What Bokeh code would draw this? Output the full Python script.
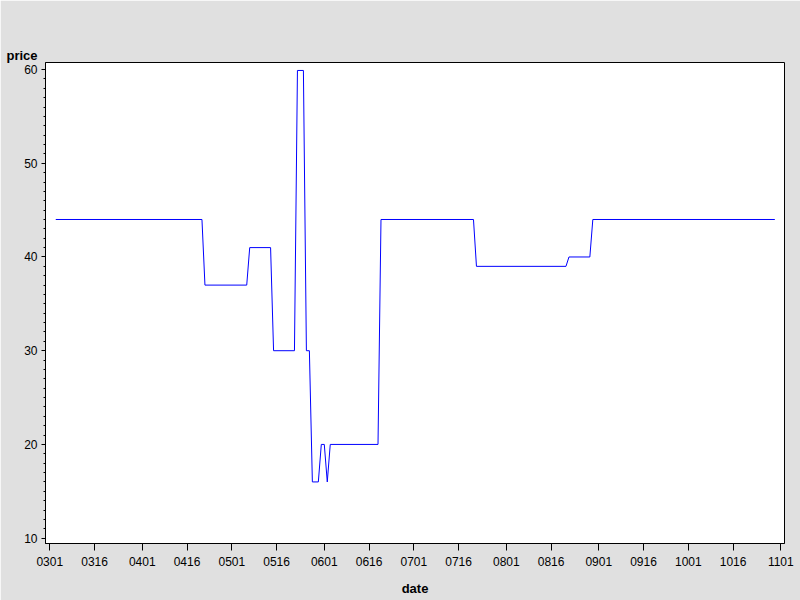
import pandas as pd
from bokeh.plotting import figure
from bokeh.models import (FixedTicker, SingleIntervalTicker, DatetimeTickFormatter,
                          Range1d, Title)
from bokeh.embed import file_html
from bokeh.resources import INLINE

YEAR = 2010
# observation dates (MMDD) where the price changes, and the prices
dates = ["0303", "0421", "0422", "0506", "0507", "0514", "0515", "0522", "0523",
         "0525", "0526", "0527", "0528", "0530", "0531", "0601", "0602", "0603",
         "0619", "0620", "0721", "0722", "0821", "0822", "0829", "0830", "1030"]
prices = [44, 44, 37, 37, 41, 41, 30, 30, 59.9,
          59.9, 30, 30, 16, 16, 20, 20, 16, 20,
          20, 44, 44, 39, 39, 40, 40, 44, 44]
tick_labels = ["0301", "0316", "0401", "0416", "0501", "0516", "0601", "0616",
               "0701", "0716", "0801", "0816", "0901", "0916", "1001", "1016", "1101"]

EPOCH = pd.Timestamp("1970-01-01")
def to_ms(ts):
    return (ts - EPOCH) / pd.Timedelta(milliseconds=1)

x = pd.to_datetime([f"{YEAR}{d}" for d in dates], format="%Y%m%d")
tick_ms = [to_ms(pd.Timestamp(f"{YEAR}-{t[:2]}-{t[2:]}")) for t in tick_labels]
start = to_ms(pd.Timestamp(f"{YEAR}-03-01") - pd.Timedelta(days=1.44))
end = to_ms(pd.Timestamp(f"{YEAR}-11-01") + pd.Timedelta(days=1.24))

BG = "#e0e0e0"
FONT = "Liberation Sans"

p = figure(width=800, height=600, x_axis_type="datetime", output_backend="svg",
           toolbar_location=None, x_range=Range1d(start, end),
           y_range=Range1d(9.43, 60.75),
           min_border_left=45, min_border_right=16, min_border_top=62,
           min_border_bottom=57)
p.border_fill_color = BG
p.background_fill_color = "white"
p.outline_line_color = "black"
p.outline_line_width = 1
p.grid.visible = False

p.line(x, prices, line_color="#0000ff", line_width=1)

# x axis
xa = p.xaxis[0]
xa.ticker = FixedTicker(ticks=tick_ms, minor_ticks=[])
xa.formatter = DatetimeTickFormatter(days="%m%d", months="%m%d", years="%m%d")
xa.major_tick_out = 7
xa.major_tick_in = 0
xa.minor_tick_out = 0
xa.minor_tick_in = 0
xa.major_label_standoff = 6
xa.major_label_text_font = FONT
xa.major_label_text_font_size = "12px"
xa.major_label_text_color = "black"
xa.axis_line_color = "black"
xa.major_tick_line_color = "black"
xa.axis_label = "date"
xa.axis_label_text_font = FONT
xa.axis_label_text_font_size = "13px"
xa.axis_label_text_font_style = "bold"
xa.axis_label_text_color = "black"
xa.axis_label_standoff = 12

# y axis
ya = p.yaxis[0]
ya.ticker = SingleIntervalTicker(interval=10, num_minor_ticks=10)
ya.major_tick_out = 4
ya.major_tick_in = 0
ya.minor_tick_out = 2
ya.minor_tick_in = 0
ya.major_label_standoff = 4
ya.major_label_text_font = FONT
ya.major_label_text_font_size = "12px"
ya.major_label_text_color = "black"
ya.axis_line_color = "black"

# y axis title placed above the axis, as in the reference
t = Title(text="price", align="left", offset=-39, standoff=0,
          text_font=FONT, text_font_size="13px", text_font_style="bold",
          text_color="black")
p.add_layout(t, "above")

open("out.html", "w").write(file_html(p, INLINE))
